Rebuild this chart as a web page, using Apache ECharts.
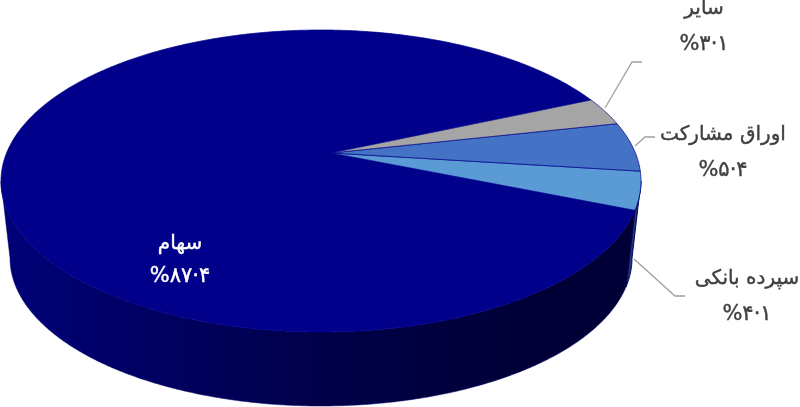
<!DOCTYPE html>
<html><head><meta charset="utf-8">
<style>html,body{margin:0;padding:0;background:#fff}#c{width:800px;height:407px}</style>
<script src="https://cdn.jsdelivr.net/npm/echarts@6/dist/echarts.min.js"></script>
</head><body><div id="c"></div>
<script>
const categories = ['سپرده بانکی', 'اوراق مشارکت', 'سایر', 'سهام'];
const shares = [4.1, 5.4, 3.1, 87.4];

// Drawing layout, kept apart from the data
const topE = {cx: 321, cy: 181, rx: 320, ry: 151};
const botE = {cx: 321, cy: 258, rx: 311, ry: 148};
const apex = [331, 153];
const startDeg = -11;
const warpDeg = 11;
const topColors = ['#5B9BD5', '#4472C4', '#A5A5A5', '#00008B'];
const wallFills = ['#1f3a6e', '#2f4f88', '#666666', {type:'linear',x:0,y:0,x2:1,y2:0,colorStops:[
  {offset:0,color:'#000078'},{offset:0.5,color:'#00004a'},{offset:0.85,color:'#000036'},{offset:1,color:'#000036'}]}];
const labelLayout = [
  {x:747, y1:279, y2:315, fill:'#404040'},
  {x:723, y1:135, y2:171, fill:'#404040'},
  {x:704, y1:9,  y2:45,  fill:'#404040'},
  {x:180, y1:244, y2:277, fill:'#ffffff'}
];
const leaders = [
  [[634,259],[675,296],[685,296]],
  [[635,146],[645,137],[655,137]],
  [[605,108],[632,62],[642,62]]
];

const faDigits = '۰۱۲۳۴۵۶۷۸۹';
const toFa = v => '%' + String(v).replace(/\d/g, d => faDigits[d]).replace('.', '·');
const pt = (e, deg) => { const r = deg * Math.PI / 180;
  return [e.cx + e.rx * Math.cos(r), e.cy - e.ry * Math.sin(r)]; };
const arc = (e, a, b) => { const n = Math.max(2, Math.ceil(Math.abs(b - a) * 2)), out = [];
  for (let i = 0; i <= n; i++) out.push(pt(e, a + (b - a) * i / n)); return out; };
const total = shares.reduce((a, b) => a + b, 0);
const warp = d => d - warpDeg * (1 - Math.cos(d * Math.PI / 180));
const range = i => { let s = startDeg; for (let k = 0; k < i; k++) s += shares[k] / total * 360;
  return [warp(s), warp(s + shares[i] / total * 360)]; };

function wallItem(params, api) {
  const i = params.dataIndex, [a, b] = range(i);
  const segs = [];
  [[a, b], [a + 360, b + 360]].forEach(([s, t]) => {
    const lo = Math.max(s, 180), hi = Math.min(t, 360);
    if (hi > lo) segs.push([lo, hi]);
  });
  return {type: 'group', silent: true, children: segs.map(([lo, hi]) => ({
    type: 'polygon',
    shape: {points: arc(topE, lo, hi).concat(arc(botE, hi, lo))},
    style: {fill: wallFills[i], stroke: i === 3 ? '#00006a' : '#000060', lineWidth: i === 3 ? 0.5 : 1, lineJoin: 'round'}
  }))};
}
function topItem(params, api) {
  const i = params.dataIndex, [a, b] = range(i);
  return {type: 'polygon', silent: true, z2: i === 3 ? 0 : 1,
    shape: {points: [apex].concat(arc(topE, a, b))},
    style: {fill: topColors[i], stroke: '#00008B', lineWidth: 0.7, lineJoin: 'round'}};
}
function labelItem(params, api) {
  const i = params.dataIndex, L = labelLayout[i], kids = [];
  if (leaders[i]) kids.push({type: 'polyline', shape: {points: leaders[i]},
    style: {stroke: '#a0a0a0', lineWidth: 1.3, fill: null}});
  const base = {x: L.x, fill: L.fill, stroke: L.fill, lineWidth: 0.4, align: 'center', verticalAlign: 'middle'};
  kids.push({type: 'text', style: Object.assign({}, base, {text: categories[i], y: L.y1, font: '20px "DejaVu Sans"'})});
  kids.push({type: 'text', style: Object.assign({}, base, {text: toFa(shares[i]), y: L.y2, font: '21px "DejaVu Sans"'})});
  return {type: 'group', silent: true, children: kids};
}
const rows = shares.map((v, i) => [categories[i], v]);
const chart = echarts.init(document.getElementById('c'), null, {renderer: 'canvas'});
chart.setOption({
  animation: false,
  backgroundColor: '#ffffff',
  series: [
    {type: 'custom', coordinateSystem: 'none', data: rows, renderItem: wallItem, z: 1},
    {type: 'custom', coordinateSystem: 'none', data: rows, renderItem: topItem, z: 2},
    {type: 'custom', coordinateSystem: 'none', data: rows, renderItem: labelItem, z: 3}
  ]
});
</script></body></html>
